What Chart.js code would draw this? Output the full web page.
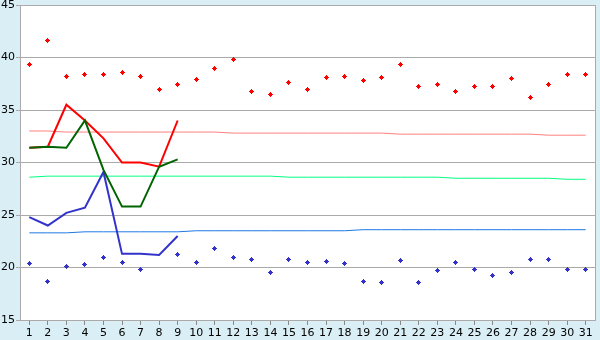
<!DOCTYPE html>
<html>
<head>
<meta charset="utf-8">
<script src="https://cdn.jsdelivr.net/npm/chart.js@4.4.0/dist/chart.umd.min.js"></script>
<style>
html,body{margin:0;padding:0;background:#d9eff5;}
canvas{display:block;}
</style>
</head>
<body>
<canvas id="c" width="600" height="340"></canvas>
<script>
// ---- data ----
const days = ['1','2','3','4','5','6','7','8','9','10','11','12','13','14','15','16','17','18','19','20','21','22','23','24','25','26','27','28','29','30','31'];
const yTicks = [15, 20, 25, 30, 35, 40, 45];

const maxPoints = [39.3,41.6,38.2,38.4,38.4,38.6,38.2,37.0,37.4,37.9,39.0,39.8,36.8,36.5,37.6,37.0,38.1,38.2,37.8,38.1,39.3,37.2,37.4,36.8,37.2,37.2,38.0,36.2,37.4,38.4,38.4];
const minPoints = [20.4,18.7,20.1,20.3,21.0,20.5,19.8,null,21.2,20.5,21.8,21.0,20.8,19.5,20.8,20.5,20.6,20.4,18.7,18.6,20.7,18.6,19.7,20.5,19.8,19.2,19.5,20.8,20.8,19.8,19.8];

const redLine   = [31.4,31.5,35.5,34.0,32.3,30.0,30.0,29.6,34.0];
const greenLine = [31.4,31.5,31.4,34.0,29.3,25.8,25.8,29.6,30.3];
const blueLine  = [24.8,24.0,25.2,25.7,29.1,21.3,21.3,21.2,23.0];

const pinkRef  = [33.0,33.0,32.9,32.9,32.9,32.9,32.9,32.9,32.9,32.9,32.9,32.8,32.8,32.8,32.8,32.8,32.8,32.8,32.8,32.8,32.7,32.7,32.7,32.7,32.7,32.7,32.7,32.7,32.6,32.6,32.6];
const greenRef = [28.6,28.7,28.7,28.7,28.7,28.7,28.7,28.7,28.7,28.7,28.7,28.7,28.7,28.7,28.6,28.6,28.6,28.6,28.6,28.6,28.6,28.6,28.6,28.5,28.5,28.5,28.5,28.5,28.5,28.4,28.4];
const blueRef  = [23.3,23.3,23.3,23.4,23.4,23.4,23.4,23.4,23.4,23.5,23.5,23.5,23.5,23.5,23.5,23.5,23.5,23.5,23.6,23.6,23.6,23.6,23.6,23.6,23.6,23.6,23.6,23.6,23.6,23.6,23.6];

// ---- marker image (small plus/diamond) ----
function marker(color) {
  const c = document.createElement('canvas');
  c.width = 5; c.height = 5;
  const g = c.getContext('2d');
  g.fillStyle = color;
  g.fillRect(2, 0, 1, 5);
  g.fillRect(0, 2, 5, 1);
  g.fillRect(1, 1, 3, 3);
  return c;
}
const redMarker = marker('#ff0000');
const blueMarker = marker('#3333cc');

const GRID = '#aaaaaa';

const bgPlugin = {
  id: 'bg',
  beforeDraw(chart) {
    const {ctx, chartArea: a} = chart;
    ctx.save();
    ctx.fillStyle = '#d9eff5';
    ctx.fillRect(0, 0, chart.width, chart.height);
    ctx.fillStyle = '#ffffff';
    ctx.fillRect(a.left, a.top, a.right - a.left, a.bottom - a.top);
    ctx.restore();
  },
  beforeDatasetsDraw(chart) {
    const {ctx, chartArea: a} = chart;
    ctx.save();
    ctx.strokeStyle = GRID;
    ctx.lineWidth = 1;
    ctx.beginPath();
    ctx.moveTo(Math.round(a.right) + 0.5, a.top);
    ctx.lineTo(Math.round(a.right) + 0.5, a.bottom);
    ctx.stroke();
    ctx.restore();
    ctx.imageSmoothingEnabled = false;
  }
};

function lineDs(data, color, width) {
  return {data, borderColor: color, backgroundColor: color, borderWidth: width,
          pointRadius: 0, fill: false, tension: 0, spanGaps: false};
}
function pointDs(data, img) {
  return {data, showLine: false, pointStyle: img, pointRadius: 3, borderWidth: 0,
          borderColor: 'transparent', backgroundColor: 'transparent'};
}

new Chart(document.getElementById('c'), {
  type: 'line',
  data: {
    labels: days,
    datasets: [
      lineDs(greenLine, '#006400', 2),
      lineDs(redLine, '#ff0000', 2),
      lineDs(blueLine, '#3333cc', 2),
      pointDs(maxPoints, redMarker),
      pointDs(minPoints, blueMarker),
      lineDs(pinkRef, '#ff8080', 1),
      lineDs(greenRef, '#00ff80', 1),
      lineDs(blueRef, '#1e78e6', 1)
    ]
  },
  options: {
    responsive: false,
    animation: false,
    events: [],
    layout: {padding: {top: 5, right: 5, left: 0, bottom: 0}},
    plugins: {legend: {display: false}, tooltip: {enabled: false}},
    scales: {
      x: {
        offset: true,
        grid: {display: true, drawOnChartArea: false, drawTicks: true, tickLength: 5, color: '#888888', offset: false},
        border: {display: true, color: GRID},
        ticks: {autoSkip: false, maxRotation: 0, minRotation: 0, padding: 2,
                font: {family: 'DejaVu Sans', size: 11}, color: '#000000'},
        afterFit(s) { s.height = 20; s.paddingLeft = 0; s.paddingRight = 0; }
      },
      y: {
        min: 15, max: 45,
        afterBuildTicks(s) { s.ticks = yTicks.map(v => ({value: v})); },
        grid: {color: GRID, tickLength: 4, drawTicks: true},
        border: {display: true, color: GRID},
        ticks: {padding: 1, font: {family: 'DejaVu Sans', size: 11}, color: '#000000'},
        afterFit(s) { s.width = 20; s.paddingTop = 0; s.paddingBottom = 0; }
      }
    }
  },
  plugins: [bgPlugin]
});
</script>
</body>
</html>
